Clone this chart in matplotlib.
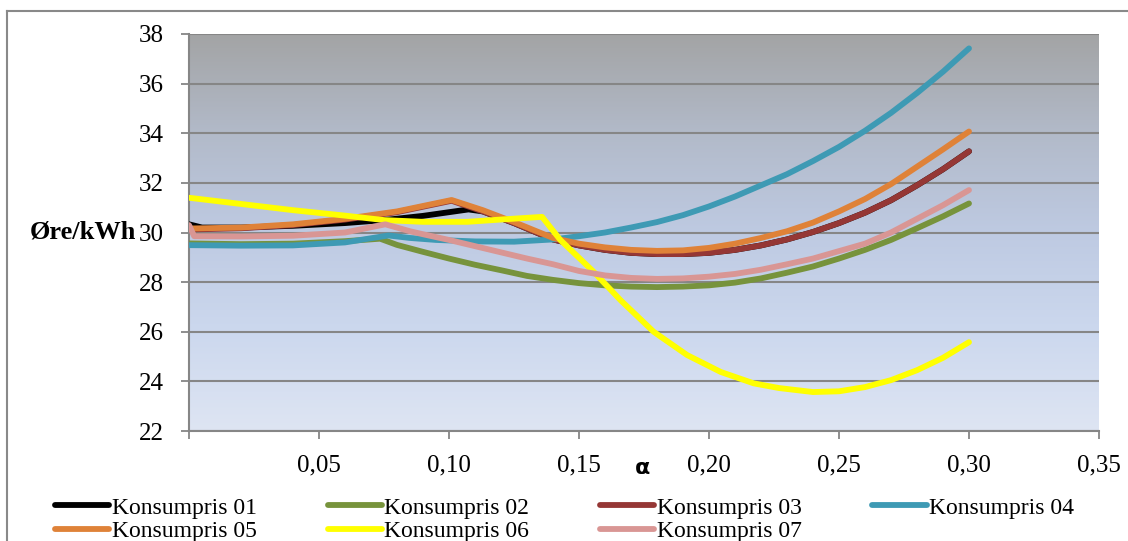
import numpy as np
import matplotlib
matplotlib.use('Agg')
import matplotlib.pyplot as plt
from matplotlib.lines import Line2D

# data (alpha -> øre/kWh)
x_01 = [0.0, 0.005, 0.02, 0.04, 0.06, 0.075, 0.09, 0.1075, 0.113, 0.125, 0.14, 0.15, 0.16, 0.17, 0.18, 0.19, 0.20,
        0.21, 0.22, 0.23, 0.24, 0.25, 0.26, 0.27, 0.28, 0.29, 0.30]
y_01 = [30.33, 30.2, 30.2, 30.27, 30.38, 30.5, 30.67, 30.93, 30.85, 30.38, 29.72, 29.48, 29.3, 29.18, 29.13, 29.13, 29.18,
        29.3, 29.48, 29.72, 30.02, 30.38, 30.8, 31.3, 31.9, 32.55, 33.27]

x_02 = [0.0, 0.02, 0.04, 0.06, 0.0735, 0.08, 0.09, 0.10, 0.11, 0.12, 0.13, 0.14, 0.15, 0.16, 0.17, 0.18, 0.19, 0.20,
        0.21, 0.22, 0.23, 0.24, 0.25, 0.26, 0.27, 0.28, 0.29, 0.30]
y_02 = [29.56, 29.53, 29.55, 29.65, 29.75, 29.5, 29.22, 28.95, 28.7, 28.48, 28.25, 28.09, 27.96, 27.87, 27.82, 27.8, 27.82, 27.87,
        27.98, 28.15, 28.38, 28.63, 28.95, 29.3, 29.7, 30.17, 30.65, 31.17]

x_03 = [0.0, 0.02, 0.04, 0.06, 0.08, 0.101, 0.113, 0.125, 0.14, 0.15, 0.16, 0.17, 0.18, 0.19, 0.20,
        0.21, 0.22, 0.23, 0.24, 0.25, 0.26, 0.27, 0.28, 0.29, 0.30]
y_03 = [30.12, 30.17, 30.3, 30.52, 30.82, 31.28, 30.85, 30.38, 29.72, 29.48, 29.3, 29.18, 29.13, 29.13, 29.18,
        29.3, 29.48, 29.72, 30.02, 30.38, 30.8, 31.3, 31.9, 32.55, 33.27]

x_04 = [0.0, 0.02, 0.04, 0.06, 0.0767, 0.085, 0.095, 0.11, 0.125, 0.14, 0.15, 0.16, 0.17, 0.18, 0.19, 0.20,
        0.21, 0.22, 0.23, 0.24, 0.25, 0.26, 0.27, 0.28, 0.29, 0.30]
y_04 = [29.49, 29.47, 29.48, 29.6, 29.88, 29.78, 29.7, 29.64, 29.63, 29.72, 29.85, 30.0, 30.2, 30.42, 30.7, 31.05,
        31.45, 31.9, 32.35, 32.88, 33.45, 34.1, 34.82, 35.62, 36.48, 37.42]

x_05 = [0.0, 0.02, 0.04, 0.06, 0.08, 0.101, 0.113, 0.125, 0.14, 0.15, 0.16, 0.17, 0.18, 0.19, 0.20,
        0.21, 0.22, 0.23, 0.24, 0.25, 0.26, 0.27, 0.28, 0.29, 0.30]
y_05 = [30.16, 30.2, 30.33, 30.55, 30.85, 31.31, 30.9, 30.42, 29.78, 29.55, 29.4, 29.3, 29.26, 29.28, 29.38,
        29.55, 29.78, 30.05, 30.4, 30.85, 31.35, 31.95, 32.65, 33.35, 34.07]

x_06 = [0.0, 0.02, 0.04, 0.06, 0.075, 0.09, 0.107, 0.121, 0.1358, 0.1429, 0.1556, 0.166, 0.1787, 0.1916, 0.2045,
        0.2172, 0.227, 0.24, 0.25, 0.26, 0.27, 0.28, 0.29, 0.30]
y_06 = [31.4, 31.15, 30.9, 30.68, 30.5, 30.43, 30.43, 30.53, 30.63, 29.69, 28.42, 27.27, 26.0, 25.06, 24.38,
        23.92, 23.73, 23.57, 23.6, 23.77, 24.05, 24.45, 24.95, 25.58]

x_07 = [0.0, 0.002, 0.02, 0.04, 0.06, 0.0755, 0.085, 0.09, 0.10, 0.11, 0.12, 0.13, 0.14, 0.15, 0.16, 0.17, 0.18, 0.19,
        0.20, 0.21, 0.22, 0.23, 0.24, 0.25, 0.26, 0.27, 0.28, 0.29, 0.30]
y_07 = [30.3, 29.85, 29.84, 29.87, 30.0, 30.33, 30.05, 29.93, 29.7, 29.45, 29.2, 28.95, 28.72, 28.45, 28.27, 28.17, 28.13, 28.15,
        28.22, 28.33, 28.5, 28.72, 28.95, 29.25, 29.55, 30.0, 30.55, 31.1, 31.71]

labels = ['Konsumpris 01', 'Konsumpris 02', 'Konsumpris 03', 'Konsumpris 04',
          'Konsumpris 05', 'Konsumpris 06', 'Konsumpris 07']
colors = ['#000000', '#77933C', '#953735', '#3E9AB4', '#DF8238', '#FFFF00', '#D99694']
xs = [x_01, x_02, x_03, x_04, x_05, x_06, x_07]
ys = [y_01, y_02, y_03, y_04, y_05, y_06, y_07]

xticks = [0.0, 0.05, 0.10, 0.15, 0.20, 0.25, 0.30, 0.35]
xticklabels = ['', '0,05', '0,10', '0,15', '0,20', '0,25', '0,30', '0,35']
yticks = [22, 24, 26, 28, 30, 32, 34, 36, 38]

plt.rcParams['font.family'] = ['Liberation Serif', 'DejaVu Serif']
GRID = '#868686'

fig = plt.figure(figsize=(11.28, 5.41), dpi=100)
ax = fig.add_axes([189 / 1128, 1 - 431 / 541, 910 / 1128, 397 / 541])

# plot area background: gray on top fading to light blue
stops = np.array([0.0, 0.25, 0.5, 0.75, 1.0])
cols = np.array([[163, 164, 165], [178, 186, 201], [190, 202, 226], [204, 216, 238], [222, 229, 243]]) / 255.0
t = np.linspace(0, 1, 256)
grad = np.stack([np.interp(t, stops, cols[:, k]) for k in range(3)], axis=1)[:, None, :]
ax.imshow(grad, extent=[0, 0.35, 22, 38], aspect='auto', origin='upper', zorder=0, interpolation='bilinear')

handles = []
for x, y, c, lab in zip(xs, ys, colors, labels):
    h, = ax.plot(x, y, color=c, lw=4.2, solid_capstyle='round', solid_joinstyle='round', label=lab, zorder=3)
    handles.append(h)

ax.set_xlim(0, 0.35)
ax.set_ylim(22, 38)
ax.set_xticks(xticks)
ax.set_xticklabels(xticklabels)
ax.set_yticks(yticks)
ax.set_yticklabels([str(v) for v in yticks])
ax.tick_params(axis='both', direction='out', length=6, width=1.3, color=GRID, labelsize=18)
ax.tick_params(axis='y', pad=12)
ax.tick_params(axis='x', pad=11)
ax.grid(axis='y', color=GRID, lw=1.5, zorder=1)
ax.set_axisbelow(True)
for s in ['top', 'right']:
    ax.spines[s].set_visible(False)
for s in ['left', 'bottom']:
    ax.spines[s].set_color(GRID)
    ax.spines[s].set_linewidth(1.5)

fig.text(136 / 1128, 1 - 232 / 541, 'Øre/kWh', ha='right', va='center', fontsize=19, fontweight='bold')
fig.text(643 / 1128, 1 - 468 / 541, 'α', ha='center', va='center', fontsize=16, fontweight='bold',
         family=['DejaVu Sans'])

order = [0, 4, 1, 5, 2, 6, 3]
fig.legend([handles[i] for i in order], [labels[i] for i in order], ncol=4, frameon=False,
           loc='upper left', bbox_to_anchor=(55 / 1128, 1 - 497 / 541), fontsize=17,
           handlelength=2.3, handletextpad=0.1, columnspacing=3.0, labelspacing=0.08, borderpad=0,
           borderaxespad=0)

# outer chart border (top and left edges visible)
fig.add_artist(Line2D([7 / 1128, 1], [1 - 11 / 541, 1 - 11 / 541], color='#898989', lw=1.5))
fig.add_artist(Line2D([7 / 1128, 7 / 1128], [1 - 11 / 541, 0], color='#898989', lw=1.5))

fig.savefig('out.png', dpi=100)
